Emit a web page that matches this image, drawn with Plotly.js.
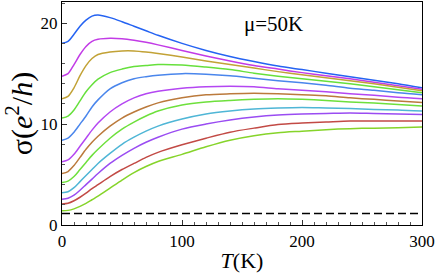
<!DOCTYPE html>
<html>
<head>
<meta charset="utf-8">
<script src="https://cdn.plot.ly/plotly-3.0.1.min.js"></script>
<style>html,body{margin:0;padding:0;background:#fff;}#plot{width:436px;height:276px;}</style>
</head>
<body>
<div id="plot"></div>
<script>
// Temperature grid (K)
const T = [0,5,10,15,20,25,30,40,50,60,70,80,100,120,140,160,180,200,220,240,260,280,300];

// Conductivity curves sigma (e^2/h), top to bottom
const sBlue    = [18.0,18.2,18.9,19.7,20.3,20.7,20.8,20.55,20.15,19.7,19.25,18.8,18.0,17.3,16.7,16.2,15.75,15.4,15.05,14.7,14.35,14.0,13.6];
const sMagenta = [14.75,15.0,15.9,16.9,17.7,18.2,18.4,18.5,18.45,18.3,18.1,17.85,17.3,16.75,16.25,15.8,15.45,15.1,14.8,14.5,14.15,13.8,13.45];
const sOlive   = [12.5,12.75,13.6,14.8,15.8,16.5,16.9,17.15,17.25,17.25,17.15,17.0,16.65,16.25,15.9,15.55,15.2,14.9,14.6,14.3,14.0,13.65,13.3];
const sGreen1  = [10.6,10.8,11.4,12.3,13.2,13.9,14.45,15.1,15.45,15.7,15.8,15.9,15.85,15.65,15.4,15.05,14.75,14.5,14.25,14.0,13.7,13.4,13.1];
const sBlue2   = [8.4,8.6,9.2,10.0,10.8,11.7,12.4,13.5,14.1,14.5,14.7,14.85,15.0,14.95,14.8,14.55,14.3,14.1,13.85,13.55,13.35,13.1,12.9];
const sPurple  = [6.27,6.45,7.0,7.8,8.6,9.4,10.1,11.2,12.0,12.6,13.0,13.25,13.55,13.7,13.75,13.7,13.5,13.35,13.2,13.0,12.85,12.65,12.5];
const sBrown   = [5.1,5.3,5.9,6.7,7.5,8.2,8.8,9.8,10.6,11.2,11.7,12.1,12.6,12.9,13.0,13.05,13.0,12.9,12.8,12.6,12.45,12.3,12.15];
const sGreen2  = [4.2,4.35,4.8,5.5,6.2,6.9,7.5,8.6,9.5,10.2,10.8,11.3,11.9,12.2,12.35,12.45,12.5,12.45,12.35,12.2,12.1,11.95,11.8];
const sCyan    = [3.2,3.3,3.7,4.3,4.9,5.5,6.1,7.1,8.0,8.7,9.3,9.8,10.5,11.0,11.3,11.5,11.6,11.65,11.6,11.55,11.45,11.4,11.3];
const sViolet  = [2.55,2.65,2.95,3.45,4.0,4.55,5.1,6.1,6.9,7.6,8.2,8.7,9.5,10.0,10.4,10.7,10.9,11.0,11.05,11.1,11.05,11.0,10.95];
const sRed     = [2.08,2.15,2.4,2.75,3.15,3.6,4.0,4.8,5.5,6.1,6.7,7.2,7.95,8.6,9.2,9.6,9.95,10.1,10.2,10.3,10.3,10.3,10.3];
const sLime    = [1.42,1.45,1.6,1.85,2.15,2.5,2.85,3.65,4.45,5.2,5.8,6.3,7.0,7.75,8.4,8.85,9.15,9.3,9.45,9.55,9.6,9.65,9.7];

// Reference level (dashed)
const refT = [0, 300];
const refLevel = [1.15, 1.15];

const seriesList = [sBlue,sMagenta,sOlive,sGreen1,sBlue2,sPurple,sBrown,sGreen2,sCyan,sViolet,sRed,sLime];
const colors = ['#2563f2','#c23be6','#c2a236','#66e03c','#4a86ec','#b447f2','#bb7a3c','#6ee03c','#4fb6d6','#9a4cf2','#c24a45','#86d42a'];

const traces = seriesList.map((s, i) => ({
  x: T, y: s, type: 'scatter', mode: 'lines',
  line: {color: colors[i], width: 1.5, shape: 'spline', smoothing: 0.8},
  showlegend: false, hoverinfo: 'skip'
}));
traces.push({
  x: refT, y: refLevel, type: 'scatter', mode: 'lines',
  line: {color: '#000', width: 1.5, dash: '8px,4px'},
  showlegend: false, hoverinfo: 'skip'
});

const serif = 'Liberation Serif';
const layout = {
  width: 436, height: 276,
  margin: {l: 62, r: 14, t: 2, b: 51},
  paper_bgcolor: '#fff', plot_bgcolor: '#fff',
  font: {family: serif, color: '#000', size: 17},
  xaxis: {
    range: [0, 300], tickvals: [0,100,200,300], ticktext: ['0','100','200','300'],
    showgrid: false, zeroline: false, showline: true, linecolor: '#000', linewidth: 1.2, mirror: true,
    ticks: 'inside', ticklen: 5, tickcolor: '#333', tickwidth: 1,
    minor: {dtick: 10, ticks: 'inside', ticklen: 3, tickcolor: '#555', showgrid: false},
    tickfont: {family: serif, size: 17, color: '#000'},
    title: {text: '<i>T</i>(K)', font: {family: serif, size: 22, color: '#000'}, standoff: 3}
  },
  yaxis: {
    range: [0, 22.1], tickvals: [0,10,20], ticktext: ['0','10','20'],
    showgrid: false, zeroline: false, showline: true, linecolor: '#000', linewidth: 1.2, mirror: true,
    ticks: 'inside', ticklen: 5, tickcolor: '#333', tickwidth: 1,
    minor: {dtick: 2, ticks: 'inside', ticklen: 3, tickcolor: '#555', showgrid: false},
    tickfont: {family: serif, size: 17, color: '#000'},
    title: {text: 'σ(<i>e</i><sup>2</sup>/<i>h</i>)', font: {family: serif, size: 30, color: '#000'}, standoff: 4}
  },
  annotations: [{
    text: 'μ=50K', xref: 'paper', yref: 'paper', x: 0.587, y: 0.9,
    xanchor: 'center', yanchor: 'middle', showarrow: false,
    font: {family: serif, size: 21, color: '#000'}
  }]
};

Plotly.newPlot('plot', traces, layout, {staticPlot: true, displayModeBar: false});
</script>
</body>
</html>
